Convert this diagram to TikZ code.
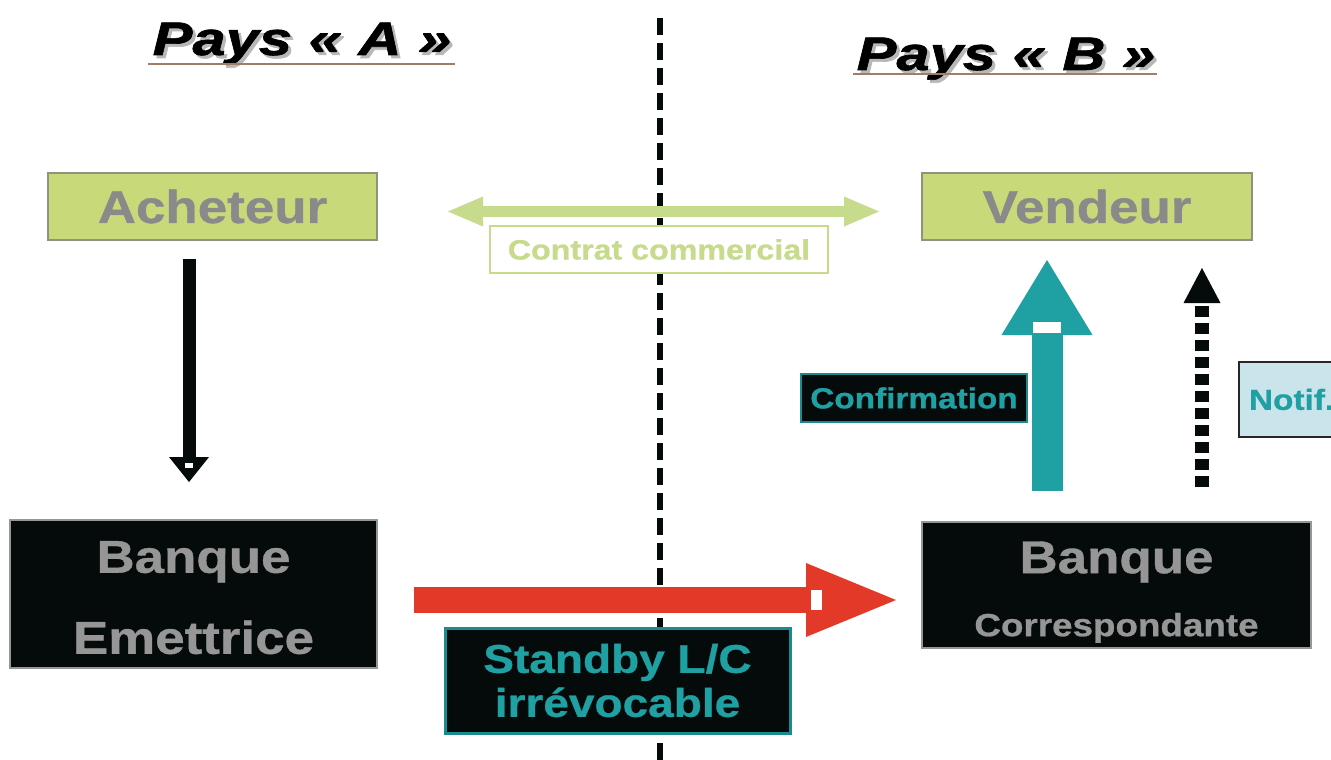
\documentclass[tikz,border=0pt]{standalone}
\usepackage{fontspec}
\setmainfont{Liberation Sans}
\newfontfamily\boxfont{Liberation Sans}[FakeStretch=1.15,FakeBold=0.8]
\newfontfamily\titlefont{Liberation Sans}[FakeStretch=1.27,FakeBold=1.4]
\usetikzlibrary{arrows.meta}

\definecolor{leaf}{RGB}{200,217,122}
\definecolor{leaflight}{RGB}{198,219,140}
\definecolor{leafborder}{RGB}{140,148,128}
\definecolor{slate}{RGB}{138,138,138}
\definecolor{bankgray}{RGB}{150,150,150}
\definecolor{tealc}{RGB}{31,160,163}
\definecolor{tealdark}{RGB}{24,140,142}
\definecolor{signal}{RGB}{226,57,40}
\definecolor{ice}{RGB}{201,228,234}
\definecolor{inkblack}{RGB}{5,10,10}
\definecolor{rule}{RGB}{160,125,105}

\begin{document}
\begin{tikzpicture}[x=1pt,y=-1pt,
  titletext/.style={font=\titlefont\bfseries\itshape\fontsize{47}{50}\selectfont, inner sep=0pt, anchor=base},
  partybox/.style={draw=leafborder, line width=2pt, fill=leaf, text=slate,
    font=\boxfont\bfseries\fontsize{46}{50}\selectfont, inner sep=0pt,
    minimum width=329pt, minimum height=67pt},
  bankbox/.style={draw=bankgray, line width=2pt, fill=inkblack, text=bankgray,
    align=center, inner sep=0pt},
  tealbox/.style={draw=tealdark, line width=2pt, fill=inkblack, text=tealc, inner sep=0pt},
  contractbox/.style={draw=leaflight, line width=2pt, fill=white, text=leaflight,
    font=\boxfont\bfseries\fontsize{28}{30}\selectfont, inner sep=0pt,
    minimum width=338pt, minimum height=47pt},
  notifbox/.style={draw=black!85, line width=2pt, fill=ice, text=tealc,
    font=\boxfont\bfseries\fontsize{29}{30}\selectfont, inner xsep=10pt, inner ysep=0pt,
    text width=160pt, align=left, minimum height=75pt, anchor=west},
  blackarrow/.style={draw=inkblack, line width=13pt,
    -{Triangle[width=40pt,length=25pt,line width=0pt]}},
  tealarrow/.style={draw=tealc, line width=31pt,
    -{Triangle[width=91pt,length=75pt,line width=0pt]}},
  notifarrow/.style={draw=inkblack, line width=14pt, dash pattern=on 11pt off 6pt,
    -{Triangle[width=37pt,length=35pt,line width=0pt]}},
  redarrow/.style={draw=signal, line width=26pt,
    -{Triangle[width=74pt,length=90pt,line width=0pt]}},
  greenarrow/.style={draw=leaflight, line width=11pt,
    {Triangle[width=30pt,length=35pt,line width=0pt]}-{Triangle[width=30pt,length=35pt,line width=0pt]}},
  border/.style={draw=inkblack, line width=6pt, dash pattern=on 17pt off 8pt}
]
\useasboundingbox (0,0) rectangle (1331,760);
\clip (0,0) rectangle (1331,760);
\fill[white] (0,0) rectangle (1331,760);

% frontier between the two countries
\coordinate (frontTop) at (660,18);
\coordinate (frontBottom) at (660,760);
\draw[border] (frontTop) -- (frontBottom);

% country headings
\node[titletext, text=black!28] (taShadow) at (305,58) {Pays « A »};
\node[titletext] (ta) at (302,55) {Pays « A »};
\draw[rule, line width=1.2pt] (148,64) -- (455,64);
\node[titletext, text=black!28] (tbShadow) at (1009,73) {Pays « B »};
\node[titletext] (tb) at (1006,70) {Pays « B »};
\draw[rule, line width=1.2pt] (853,74) -- (1157,74);

% parties
\node[partybox] (ach) at (212.5,206.5) {Acheteur};
\node[partybox, minimum width=330pt] (ven) at (1087,206.5) {Vendeur};

% banks
\node[bankbox, minimum width=367pt, minimum height=148pt,
      font=\boxfont\bfseries\fontsize{46}{81}\selectfont] (em) at (193.5,594)
  {\rule{0pt}{39pt}Banque\\Emettrice};
\node[bankbox, minimum width=389pt, minimum height=126pt,
      font=\boxfont\bfseries\fontsize{46}{63}\selectfont] (cor) at (1116.5,585)
  {\rule{0pt}{46pt}Banque\\{\fontsize{32}{63}\selectfont Correspondante}};

% commercial contract between buyer and seller
\node[contractbox] (contrat) at (659,249.5) {Contrat commercial};
\draw[greenarrow, shorten <=70pt, shorten >=42pt]
  ([yshift=-5pt]ach.east) -- ([yshift=-5pt]ach.east -| ven.west);

% buyer instructs the issuing bank
\draw[blackarrow, shorten <=18pt, shorten >=37pt]
  ([xshift=-23.5pt]ach.south) -- ([xshift=-23.5pt]ach.south |- em.north);
\fill[white] (185,463) rectangle (193,468);

% standby letter of credit
\draw[redarrow, shorten <=36pt, shorten >=25pt]
  ([yshift=-6pt]em.east) -- ([yshift=-6pt]em.east -| cor.west);
\fill[white] (811,590) rectangle (822,610);
\node[tealbox, line width=3pt, minimum width=345pt, minimum height=105pt, align=center,
      font=\boxfont\bfseries\fontsize{40}{44}\selectfont] (standby) at (617.5,680.5)
  {Standby L/C\\irrévocable};

% confirmation and notification to the seller
\draw[tealarrow, shorten <=30pt, shorten >=19pt]
  ([xshift=-69.5pt]cor.north) -- ([xshift=-69.5pt]cor.north |- ven.south);
\fill[white] (1033,322) rectangle (1061,333);
\node[tealbox, minimum width=226pt, minimum height=48pt,
      font=\boxfont\bfseries\fontsize{29}{30}\selectfont] (conf) at (914,398) {Confirmation};

\draw[notifarrow, shorten <=34pt, shorten >=27pt]
  ([xshift=85.5pt]cor.north) -- ([xshift=85.5pt]cor.north |- ven.south);
\node[notifbox] (notif) at (1238,399.5) {Notif.};
\end{tikzpicture}
\end{document}
